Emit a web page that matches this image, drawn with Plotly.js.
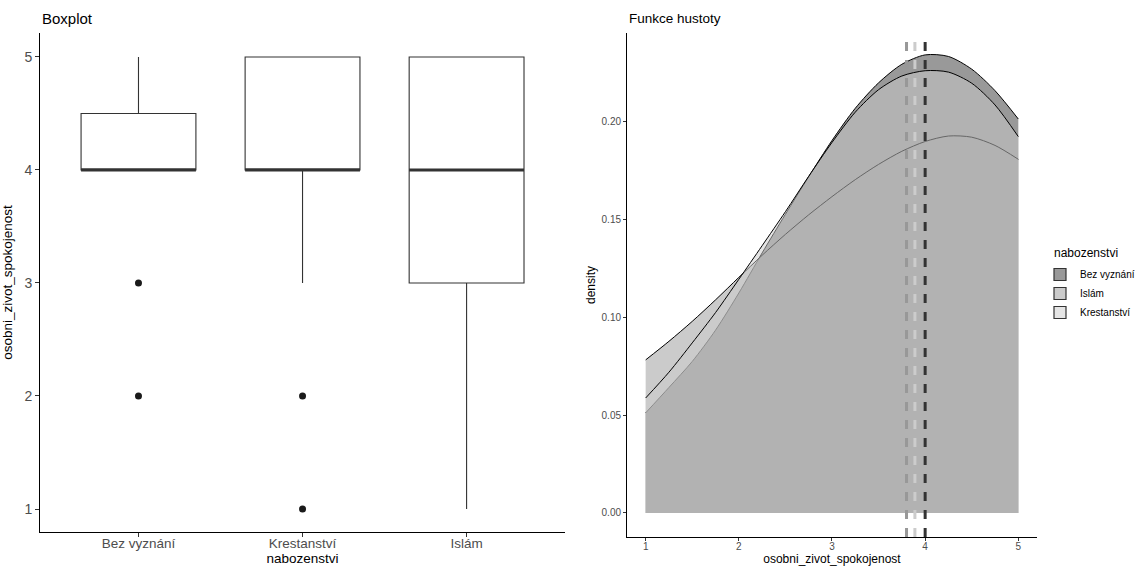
<!DOCTYPE html>
<html><head><meta charset="utf-8">
<script src="https://cdn.plot.ly/plotly-3.0.1.min.js"></script>
<style>html,body{margin:0;padding:0;background:#fff}#chart{width:1138px;height:567px}</style>
</head><body><div id="chart"></div>
<script>
// ---- Boxplot data ----
const categories = ['Bez vyznání', 'Krestanství', 'Islám'];
const q1 = [4, 4, 3];
const medians = [4, 4, 4];
const q3 = [4.5, 5, 5];
const lowerWhisker = [4, 3, 1];
const upperWhisker = [5, 5, 5];
const outlierGroups = ['Bez vyznání', 'Bez vyznání', 'Krestanství', 'Krestanství'];
const outlierValues = [3, 2, 2, 1];

// ---- Density data ----
const densityGrid = [1, 1.25, 1.5, 1.75, 2, 2.25, 2.5, 2.75, 3, 3.25, 3.5, 3.75, 4, 4.25, 4.5, 4.75, 5];
const densityBez = [0.0512, 0.0642, 0.0775, 0.0935, 0.1125, 0.1330, 0.1528, 0.1720, 0.1905, 0.2070, 0.2200, 0.2295, 0.2343, 0.2335, 0.2270, 0.2160, 0.2015];
const densityIslam = [0.0783, 0.0878, 0.0980, 0.1090, 0.1205, 0.1318, 0.1425, 0.1525, 0.1618, 0.1705, 0.1783, 0.1850, 0.1900, 0.1928, 0.1922, 0.1880, 0.1809];
const densityKrest = [0.0588, 0.0720, 0.0870, 0.1025, 0.1195, 0.1367, 0.1541, 0.1722, 0.1895, 0.2050, 0.2165, 0.2235, 0.2262, 0.2255, 0.2198, 0.2087, 0.1925];
const groupNames = ['Bez vyznání', 'Islám', 'Krestanství'];
const groupMeans = [4.0, 3.80, 3.89];
const legendTitle = 'nabozenstvi';
const yTicksBox = [1, 2, 3, 4, 5];
const yTicksDensity = [0, 0.05, 0.10, 0.15, 0.20];
const xTicksDensity = [1, 2, 3, 4, 5];

// styles
const greys = ['#333333', '#989898', '#cccccc'];
const fills = ['rgba(51,51,51,0.5)', 'rgba(152,152,152,0.5)', 'rgba(204,204,204,0.5)'];
const keyFills = ['#999999', '#cbcbcb', '#e5e5e5'];
const FONT = 'Liberation Sans, Arial, sans-serif';

const traces = [];
traces.push({
  type: 'box', x: categories, q1: q1, median: medians, q3: q3,
  lowerfence: lowerWhisker, upperfence: upperWhisker, width: 0.7,
  xaxis: 'x', yaxis: 'y', fillcolor: '#ffffff',
  line: {color: '#333333', width: 1.1}, whiskerwidth: 0,
  boxpoints: false, showlegend: false, hoverinfo: 'skip'
});
traces.push({
  type: 'box', x: categories, q1: medians, median: medians, q3: medians,
  lowerfence: medians, upperfence: medians, width: 0.7,
  xaxis: 'x', yaxis: 'y', fillcolor: 'rgba(0,0,0,0)',
  line: {color: '#333333', width: 3}, whiskerwidth: 0,
  boxpoints: false, showlegend: false, hoverinfo: 'skip'
});
traces.push({
  type: 'scatter', mode: 'markers', x: outlierGroups, y: outlierValues,
  xaxis: 'x', yaxis: 'y', marker: {color: '#1a1a1a', size: 7},
  showlegend: false, hoverinfo: 'skip'
});

const densities = [densityBez, densityIslam, densityKrest];
densities.forEach((d, i) => {
  traces.push({
    type: 'scatter', mode: 'lines', x: densityGrid, y: d,
    xaxis: 'x2', yaxis: 'y2', name: groupNames[i], showlegend: false,
    fill: 'tozeroy', fillcolor: fills[i],
    line: {color: '#000000', width: 1, shape: 'spline', smoothing: 0.8}
  });
});
// legend keys (boxes like ggplot fill keys)
groupNames.forEach((n, i) => {
  traces.push({
    type: 'bar', x: [null], y: [null], xaxis: 'x2', yaxis: 'y2', name: n,
    marker: {color: keyFills[i], line: {color: '#333333', width: 1.2}},
    hoverinfo: 'skip'
  });
});

const shapes = groupMeans.map((m, i) => ({
  type: 'line', xref: 'x2', yref: 'y2 domain', x0: m, x1: m, y0: 0, y1: 1,
  line: {color: greys[i], width: 3, dash: '9px,9px'}, layer: 'above'
}));

const axisCommon = {
  showline: true, linecolor: '#000000', linewidth: 1, ticks: 'outside',
  ticklen: 4, tickcolor: '#333333', showgrid: false, zeroline: false
};

const layout = {
  width: 1138, height: 567, paper_bgcolor: '#ffffff', plot_bgcolor: '#ffffff',
  margin: {l: 0, r: 0, t: 0, b: 0, autoexpand: false},
  font: {family: FONT, color: '#000000'},
  boxmode: 'overlay', barmode: 'overlay',
  xaxis: Object.assign({}, axisCommon, {
    domain: [0.0352, 0.4965], anchor: 'y', type: 'category',
    range: [-0.6, 2.6], tickfont: {size: 13.5, color: '#4d4d4d'}, ticklabelstandoff: -5,
    title: {text: 'nabozenstvi', font: {size: 13.5, color: '#000'}, standoff: 1}
  }),
  yaxis: Object.assign({}, axisCommon, {
    domain: [0.0617, 0.9418], anchor: 'x', range: [0.7965, 5.212],
    tickvals: yTicksBox, tickfont: {size: 14, color: '#4d4d4d'},
    title: {text: 'osobni_zivot_spokojenost', font: {size: 13.5, color: '#000'}, standoff: 8}
  }),
  xaxis2: Object.assign({}, axisCommon, {
    domain: [0.551, 0.9112], anchor: 'y2', range: [0.8, 5.2], ticklen: 3,
    tickvals: xTicksDensity, tickfont: {size: 10, color: '#4d4d4d'}, ticklabelstandoff: -3,
    title: {text: 'osobni_zivot_spokojenost', font: {size: 12, color: '#000'}, standoff: 3}
  }),
  yaxis2: Object.assign({}, axisCommon, {
    domain: [0.0529, 0.9418], anchor: 'x2', range: [-0.0123, 0.2455], ticklen: 3,
    tickvals: yTicksDensity, tickformat: '.2f', tickfont: {size: 10, color: '#4d4d4d'},
    title: {text: 'density', font: {size: 12, color: '#000'}, standoff: 3}
  }),
  shapes: shapes,
  legend: {
    x: 1040 / 1138, xanchor: 'left', y: 1 - 260 / 567, yanchor: 'top',
    font: {size: 10, color: '#000'}, traceorder: 'normal',
    bgcolor: 'rgba(0,0,0,0)', itemwidth: 30, tracegroupgap: 0
  },
  annotations: [
    {text: 'Boxplot', xref: 'paper', yref: 'paper', x: 40 / 1138, y: 1 - 18 / 567,
     xanchor: 'left', yanchor: 'middle', showarrow: false, font: {size: 15, color: '#000'}},
    {text: 'Funkce hustoty', xref: 'paper', yref: 'paper', x: 627 / 1138, y: 1 - 18 / 567,
     xanchor: 'left', yanchor: 'middle', showarrow: false, font: {size: 13.5, color: '#000'}},
    {text: legendTitle, xref: 'paper', yref: 'paper', x: 1052 / 1138, y: 1 - 253 / 567,
     xanchor: 'left', yanchor: 'middle', showarrow: false, font: {size: 12, color: '#000'}}
  ]
};

Plotly.newPlot('chart', traces, layout, {displayModeBar: false, staticPlot: true});
</script>
</body></html>
